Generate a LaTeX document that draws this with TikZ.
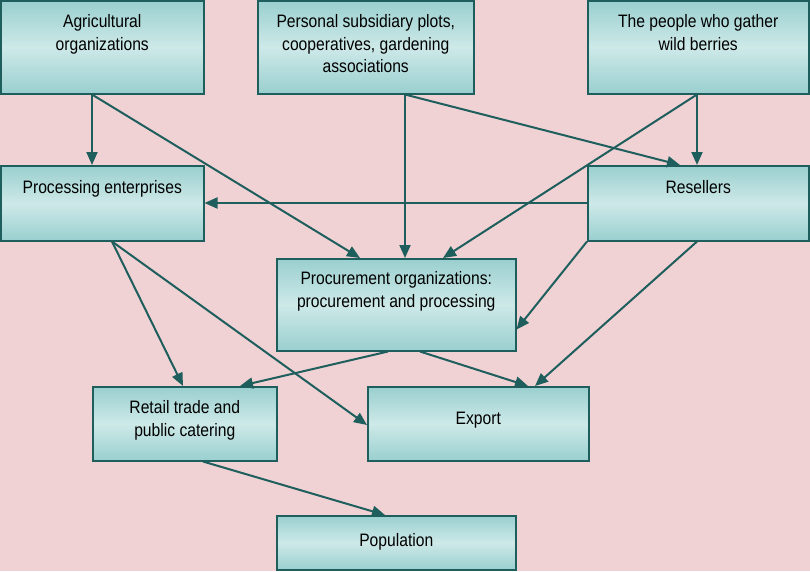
\documentclass[tikz,border=0pt]{standalone}
\usepackage{fontspec}
\setmainfont[FakeStretch=0.87]{Liberation Sans}
\usetikzlibrary{arrows.meta}
\definecolor{bg}{HTML}{F0D2D4}
\definecolor{bord}{HTML}{1E5E5C}
\definecolor{boxdark}{HTML}{9ACFCF}
\definecolor{boxlight}{HTML}{CDE9E8}
\newcommand{\btext}[4]{\parbox[c][#2][t]{#1}{\centering\fontsize{18pt}{22.5pt}\selectfont\vspace*{#3}\rule{0pt}{13.5pt}#4\par}}
\tikzset{
  box/.style={draw=bord, line width=1.5pt, top color=boxdark, bottom color=boxdark, middle color=boxlight, inner sep=0pt, anchor=north west},
  arr/.style={draw=bord, line width=2pt, -{Triangle[length=13pt,width=11pt]}}
}
\begin{document}
\begin{tikzpicture}[x=1pt,y=-1pt]
\fill[bg] (0,0) rectangle (810,571);
\useasboundingbox (0,0) rectangle (810,571);
\node[box] (agri) at (0,0) {\btext{203pt}{93pt}{13.5pt}{Agricultural\\organizations}};
\node[box] (pers) at (257,0) {\btext{216pt}{93pt}{13.5pt}{Personal subsidiary plots,\\cooperatives, gardening\\associations}};
\node[box] (wild) at (587,0) {\btext{221pt}{93pt}{13.5pt}{The people who gather\\wild berries}};
\node[box] (proc) at (0,165) {\btext{203pt}{75pt}{14.5pt}{Processing enterprises}};
\node[box] (resel) at (587,165) {\btext{221pt}{75pt}{14.5pt}{Resellers}};
\node[box] (procur) at (276,258) {\btext{239pt}{92pt}{12.5pt}{Procurement organizations:\\procurement and processing}};
\node[box] (retail) at (92,386) {\btext{184pt}{74pt}{13.5pt}{Retail trade and\\public catering}};
\node[box] (export) at (367,386) {\btext{221pt}{74pt}{24.5pt}{Export}};
\node[box] (pop) at (276,515) {\btext{239pt}{54pt}{17.5pt}{Population}};
\draw[arr] ([xshift=92pt]agri.south west) -- ([xshift=92pt]proc.north west);
\draw[arr] ([xshift=92pt]agri.south west) -- ([xshift=84pt]procur.north west);
\draw[arr] ([xshift=148pt]pers.south west) -- ([xshift=129pt]procur.north west);
\draw[arr] ([xshift=148pt]pers.south west) -- ([xshift=93pt]resel.north west);
\draw[arr] ([xshift=110pt]wild.south west) -- ([xshift=110pt]resel.north west);
\draw[arr] ([xshift=110pt]wild.south west) -- ([xshift=167pt]procur.north west);
\draw[arr] ([yshift=-38pt]resel.north west) -- ([yshift=-38pt]proc.north east);
\draw[arr] (resel.south west) -- ([yshift=22pt]procur.south east);
\draw[arr] ([xshift=110pt]resel.south west) -- ([xshift=168pt]export.north west);
\draw[arr] ([xshift=112pt]proc.south west) -- ([xshift=91pt]retail.north west);
\draw[arr] ([xshift=112pt]proc.south west) -- ([yshift=-39pt]export.north west);
\draw[arr] ([xshift=112pt]procur.south west) -- ([xshift=148pt]retail.north west);
\draw[arr] ([xshift=144pt]procur.south west) -- ([xshift=161pt]export.north west);
\draw[arr] ([xshift=111pt]retail.south west) -- ([xshift=109pt]pop.north west);
\end{tikzpicture}
\end{document}
